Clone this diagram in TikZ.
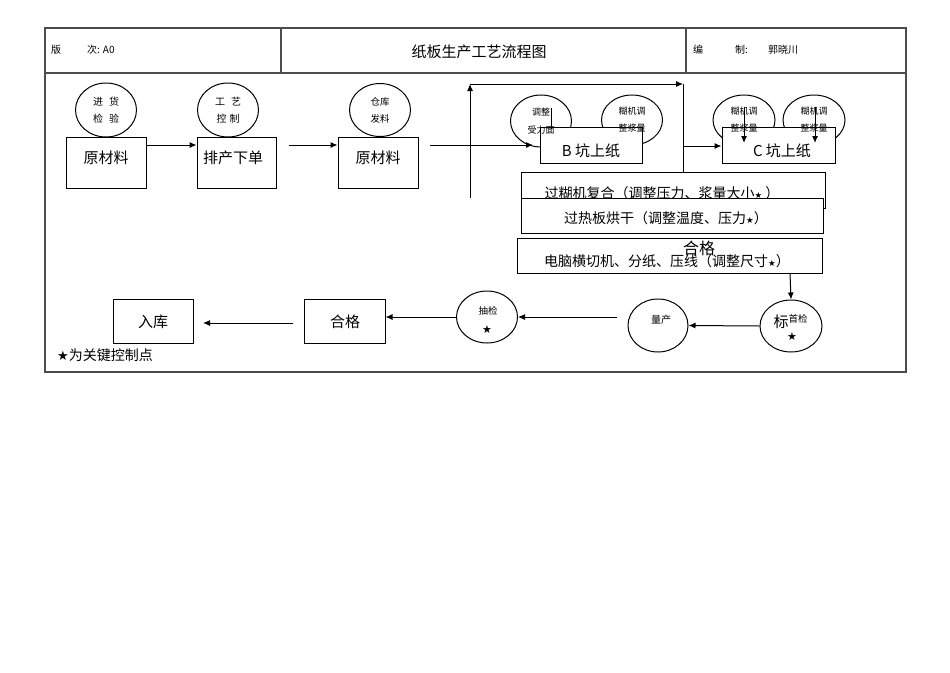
\documentclass[tikz,border=0pt]{standalone}
\usepackage{fontspec}
\setmainfont{Noto Sans CJK SC}
\newfontfamily\dvs{DejaVu Sans}
\usetikzlibrary{shapes.geometric,arrows.meta}
\newcommand{\stsm}{{\dvs\fontsize{8.5}{8.5}\selectfont ★}}
\begin{document}
\begin{tikzpicture}[x=1pt,y=-1pt,
  frame/.style={draw=black!70, line width=1.2pt},
  box/.style={draw, line width=1pt, fill=white, inner sep=0pt},
  ell/.style={draw, ellipse, line width=1pt, inner sep=0pt},
  small/.style={font=\fontsize{9.5}{17}\selectfont, align=center, inner sep=0pt},
  big/.style={font=\fontsize{15}{17}\selectfont, inner sep=0pt},
  mid/.style={font=\fontsize{14}{16}\selectfont, inner sep=0pt},
  hdr/.style={font=\fontsize{10}{11}\selectfont, inner sep=0pt, anchor=west},
  arr/.style={-{Latex[length=7pt,width=6pt]}, line width=1pt},
  ln/.style={line width=1pt}]
\useasboundingbox[fill=white] (0,0) rectangle (950,672);
% frame and header
\draw[frame] (45,28) rectangle (906,372);
\draw[frame] (45,73) -- (906,73);
\draw[frame] (281,28) -- (281,73);
\draw[frame] (686,28) -- (686,73);
\node[hdr] (h1) at (51,50) {版};
\node[hdr] (h2) at (87,50) {次: A0};
\node[font=\fontsize{15}{17}\selectfont, inner sep=0pt] (title) at (479,52) {纸板生产工艺流程图};
\node[hdr] (h3) at (693,50) {编};
\node[hdr] (h4) at (735,50) {制:};
\node[hdr] (h5) at (768,50) {郭晓川};
% row 1
\node[box, minimum width=80pt, minimum height=51pt] (r1) at (106,162.5) {};
\node[big] at (106,158) {原材料};
\node[ell, minimum width=61pt, minimum height=54pt] (e1) at (106,110) {};
\node[small, font=\fontsize{10}{17}\selectfont] at (e1.center) {进\hspace{0.6em}货\\检\hspace{0.6em}验};
\node[box, minimum width=79pt, minimum height=51pt] (r2) at (236.5,162.5) {};
\node[big] at (233,158) {排产下单};
\node[ell, minimum width=61pt, minimum height=54pt] (e2) at (228,110) {};
\node[small, font=\fontsize{10}{17}\selectfont] at (e2.center) {工\hspace{0.6em}艺\\控\hspace{0.3em}制};
\node[box, minimum width=80pt, minimum height=51pt] (r3) at (378,162.5) {};
\node[big] at (378,158) {原材料};
\node[ell, minimum width=61pt, minimum height=53pt] (e3) at (380,110) {};
\node[small] at (e3.center) {仓库\\发料};
\draw[arr] (r1.east |- 0,145) coordinate (a1s) -- (r2.west |- 0,145) coordinate (a1e);
\coordinate (a2s) at (289,145);
\draw[arr] (a2s) -- (r3.west |- a2s);
% B section
\node[ell, minimum width=61pt, minimum height=52pt] (eb1) at (541,121) {};
\node[ell, minimum width=61pt, minimum height=50pt] (eb2) at (632,120) {};
\node[box, minimum width=102pt, minimum height=36pt] (rb) at (591,145) {};
\node[big] at (591,151) {B 坑上纸};
\node[small, font=\fontsize{9}{18}\selectfont] at (eb1.center) {调整\\受力面};
\node[small, font=\fontsize{9}{17}\selectfont] at (eb2.center) {糊机调\\整浆量};
\draw[ln] (551,108) -- (551,129);
\coordinate (a3s) at (430,145);
\coordinate (a3e) at (533,145);
\draw[arr] (a3s) -- (a3e);
\coordinate (v1) at (470,198);
\coordinate (v2) at (470,84);
\coordinate (v3) at (683,84);
\coordinate (v4) at (683,197);
\draw[arr] (v1) -- (v2);
\draw[arr] (v2) -- (v3);
\draw[arr] (v3) -- (v4);
% C section
\node[ell, minimum width=62pt, minimum height=50pt] (ec1) at (744,120) {};
\node[ell, minimum width=62pt, minimum height=50pt] (ec2) at (814,120) {};
\node[box, minimum width=113pt, minimum height=36pt] (rc) at (778.5,145.5) {};
\node[big] at (782,151) {C 坑上纸};
\node[small, font=\fontsize{9}{17}\selectfont] at (ec1.center) {糊机调\\整浆量};
\node[small, font=\fontsize{9}{17}\selectfont] at (ec2.center) {糊机调\\整浆量};
\draw[arr] (744,107) -- (744,143);
\draw[arr] (815,107) -- (815,143);
\draw[arr] (v3 |- 0,146) -- (rc.west |- 0,146);
% process boxes
\node[box, minimum width=304pt, minimum height=36pt] (p1) at (673,190) {};
\node[mid] at (662,193) {过糊机复合（调整压力、浆量大小\stsm\ ）};
\node[box, minimum width=302pt, minimum height=35pt] (p2) at (672,215.5) {};
\node[mid] at (666,218) {过热板烘干（调整温度、压力\stsm）};
\node[box, minimum width=305pt, minimum height=35pt] (p3) at (669.5,255.5) {};
\node[mid] at (667,261) {电脑横切机、分纸、压线（调整尺寸\stsm）};
\node[font=\fontsize{16}{18}\selectfont, inner sep=0pt] at (699,248) {合格};
% bottom row
\node[ell, minimum width=62pt, minimum height=52pt] (bj) at (791,326) {};
\node[font=\fontsize{15}{16}\selectfont, inner sep=0pt] at (781,322) {标};
\node[small] at (798,319) {首检};
\node[font=\dvs\fontsize{11}{11}\selectfont, inner sep=0pt] at (792,337) {★};
\draw[arr] (790,273) -- (bj.north);
\node[ell, minimum width=60pt, minimum height=53pt] (lc) at (658,325.5) {};
\node[small, font=\fontsize{10}{17}\selectfont] at (661,320) {量产};
\draw[arr] (bj.west) -- (lc.east);
\node[ell, minimum width=61pt, minimum height=52pt] (cj) at (487,317) {};
\node[small] at (488,311) {抽检};
\node[font=\dvs\fontsize{11}{11}\selectfont, inner sep=0pt] at (487,330) {★};
\coordinate (a6s) at (617,317);
\draw[arr] (a6s) -- (cj.east);
\node[box, minimum width=81pt, minimum height=44pt] (hg) at (344.5,321) {};
\node[big] at (345,322) {合格};
\draw[arr] (cj.west) -- (cj.west -| hg.east);
\node[box, minimum width=80pt, minimum height=44pt] (rk) at (153,321) {};
\node[big] at (153,322) {入库};
\coordinate (a8s) at (293,323);
\coordinate (a8e) at (203,323);
\draw[arr] (a8s) -- (a8e);
\node[anchor=west, inner sep=0pt, font=\fontsize{14}{15}\selectfont] (note) at (57,355) {{\dvs\fontsize{13}{15}\selectfont ★}为关键控制点};
\end{tikzpicture}
\end{document}
